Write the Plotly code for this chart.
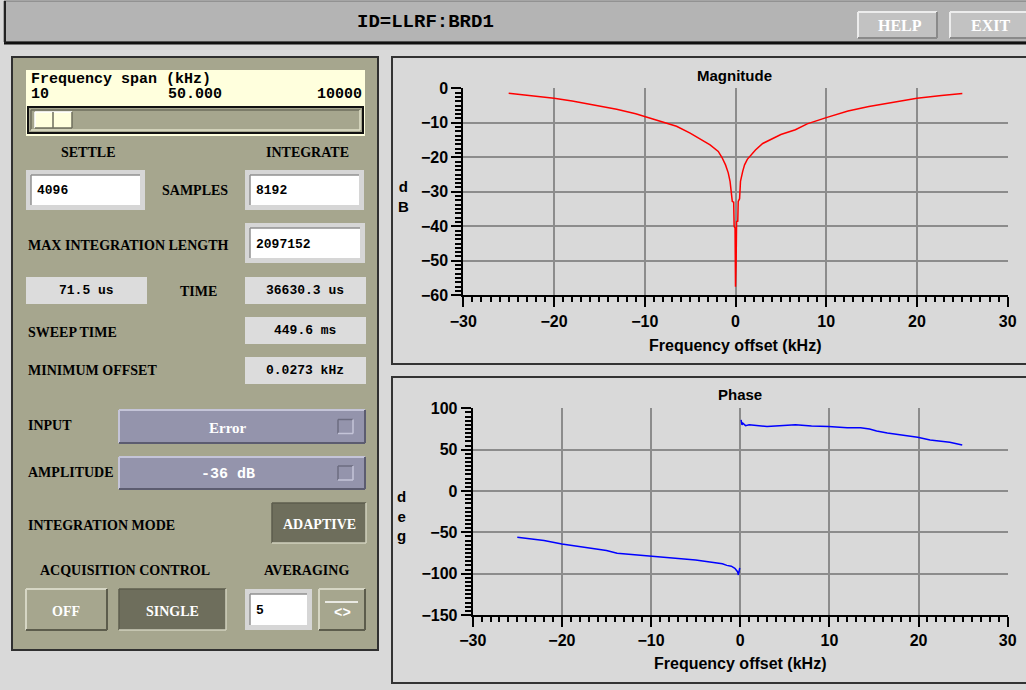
import plotly.graph_objects as go

W, H = 1026, 690

# ---------------- data ----------------
mag_freq = [-25, -24, -22.7, -21, -20, -18, -15.8, -13.1, -11, -10, -8.5, -7.7, -6.5, -5, -4, -2.8,
            -1.9, -1.5, -1.1, -0.8, -0.6, -0.45, -0.35, -0.2, -0.15, -0.05, 0.0, 0.07, 0.12, 0.25,
            0.3, 0.45, 0.55, 0.8, 1.0, 1.3, 1.7, 2.2, 3.0, 3.9, 5.0, 6.6, 7.9, 10, 12.4, 14.7,
            17.8, 20, 22.7, 25]
mag_db = [-1.45, -1.7, -2.1, -2.6, -2.9, -3.7, -4.8, -6.1, -7.4, -8.2, -9.2, -9.9, -11.0, -13.0, -14.5, -16.4,
          -18.3, -20.0, -22.2, -24.5, -27.0, -30.0, -32.8, -33.0, -40.0, -40.5, -57.5, -50.0, -38.6, -38.5,
          -32.8, -32.0, -27.0, -24.0, -22.2, -20.6, -19.3, -17.9, -16.0, -14.8, -13.4, -12.0, -10.3, -8.5, -6.6, -5.3,
          -3.9, -2.9, -2.1, -1.5]

ph_freq_neg = [-25, -24, -22, -20, -18, -16.6, -15, -13.8, -12, -10, -8, -6.5, -5, -3.4, -2, -1.5, -1,
               -0.6, -0.3, -0.2, -0.1, -0.05]
ph_deg_neg = [-56, -57.5, -60, -64, -67, -70, -72, -75.4, -77, -79.4, -80.5, -82, -83.5, -86, -88, -90, -91,
              -93.5, -97.6, -101.6, -96, -93]
ph_freq_pos = [0.1, 0.2, 0.3, 0.6, 1.0, 1.7, 3, 4.4, 6.2, 8, 9.9, 12, 13.5, 14.5, 15.3, 16.5, 18.1, 19.9,
               21.3, 22.5, 23.5, 24.9]
ph_deg_pos = [86, 80, 82, 79, 80, 79, 78, 79, 80, 78.5, 78, 76.5, 76.6, 75, 72.6, 70, 67.7, 65,
              61.7, 60.5, 59, 55.6]

x_ticks = [-30, -20, -10, 0, 10, 20, 30]
mag_ticks = [0, -10, -20, -30, -40, -50, -60]
ph_ticks = [100, 50, 0, -50, -100, -150]

# ---------------- helpers ----------------
def X(px):
    return px / W

def Y(py):
    return 1 - py / H

shapes = []
annotations = []

def box(x0, y0, x1, y1, fill, line=None, lw=0):
    shapes.append(dict(type="rect", xref="paper", yref="paper",
                       x0=X(x0), x1=X(x1), y0=Y(y1), y1=Y(y0),
                       fillcolor=fill, line=dict(color=line or fill, width=lw), layer="below"))

def seg(x0, y0, x1, y1, color, lw=1):
    shapes.append(dict(type="line", xref="paper", yref="paper",
                       x0=X(x0), x1=X(x1), y0=Y(y0), y1=Y(y1),
                       line=dict(color=color, width=lw), layer="below"))

def bevel(x0, y0, x1, y1, light, dark, lw=2):
    seg(x0, y0, x1, y0, light, lw)
    seg(x0, y0, x0, y1, light, lw)
    seg(x0, y1, x1, y1, dark, lw)
    seg(x1, y0, x1, y1, dark, lw)

def text(x, y, s, size=14, family="Liberation Serif", color="black", anchor="center", bold=True):
    annotations.append(dict(x=X(x), y=Y(y), xref="paper", yref="paper", text=s, showarrow=False,
                            xanchor=anchor, yanchor="middle",
                            font=dict(family=family, size=size, color=color,
                                      weight="bold" if bold else "normal")))

SERIF = "Liberation Serif"
MONO = "Liberation Mono"
SANS = "Liberation Sans"

PANEL = "#a6a68e"
DARKB = "#6e6e5c"
DROP = "#9494ac"
VALBOX = "#dcdcdc"

# ---------------- header ----------------
box(4, 1, 1030, 42, "#b4b4b4", "#707070", 1)
seg(4, 43, 1030, 43, "#111111", 3)
seg(5, 1, 5, 43, "#222222", 2)
text(425, 22, "ID=LLRF:BRD1", 19, MONO)
for (bx0, bx1, lbl) in [(858, 937, "HELP"), (950, 1030, "EXIT")]:
    box(bx0, 12, bx1, 38, "#c2c2c2")
    bevel(bx0, 12, bx1, 38, "#ececec", "#8a8a8a", 2)
    text((bx0 + min(bx1, 1026)) / 2 + 2, 25, lbl, 16, SERIF, "white")

# ---------------- plot panels ----------------
box(392, 57, 1032, 364, "#d9d9d9", "#333333", 2)
box(392, 377, 1032, 683, "#d9d9d9", "#333333", 2)

# ---------------- left control panel ----------------
box(12, 57, 378, 650, PANEL, "#303030", 2)
box(26, 70, 365, 136, "#ffffdd")
text(29, 79, "Frequency span (kHz)", 15, MONO, anchor="left")
text(29, 95, "10", 15, MONO, anchor="left")
text(195, 95, "50.000", 15, MONO)
text(364, 95, "10000", 15, MONO, anchor="right")
box(28, 107, 363, 133, PANEL, "#111111", 2)
bevel(31, 110, 360, 130, "#6e6e5c", "#e0e0c8", 1.5)
box(35, 112, 72, 128, "#ffffdd")
bevel(35, 112, 72, 128, "#ffffff", "#6e6e5c", 1.5)
seg(53, 112, 53, 128, "#6e6e5c", 1.5)

text(88, 152, "SETTLE", 14, SERIF)
text(307, 152, "INTEGRATE", 14, SERIF)

def inbox(x0, y0, x1, y1):
    box(x0, y0, x1, y1, "#d6d6d6")
    box(x0 + 5, y0 + 5, x1 - 5, y1 - 5, "white")
    seg(x0 + 5, y0 + 5, x1 - 5, y0 + 5, "#909090", 1.5)
    seg(x0 + 5, y0 + 5, x0 + 5, y1 - 5, "#909090", 1.5)

inbox(26, 170, 145, 210)
inbox(245, 170, 364, 210)
text(35, 190, "4096", 13, MONO, anchor="left")
text(195, 190, "SAMPLES", 14, SERIF)
text(254, 190, "8192", 13, MONO, anchor="left")

text(26, 245, "MAX INTEGRATION LENGTH", 14, SERIF, anchor="left")
inbox(245, 223, 365, 263)
text(254, 244, "2097152", 13, MONO, anchor="left")

box(26, 277, 147, 304, VALBOX)
text(86, 290, "71.5 us", 13, MONO)
text(198, 291, "TIME", 14, SERIF)
box(245, 277, 366, 304, VALBOX)
text(305, 290, "36630.3 us", 13, MONO)

text(26, 332, "SWEEP TIME", 14, SERIF, anchor="left")
box(245, 317, 366, 344, VALBOX)
text(305, 330, "449.6 ms", 13, MONO)

text(26, 370, "MINIMUM OFFSET", 14, SERIF, anchor="left")
box(245, 357, 366, 384, VALBOX)
text(305, 370, "0.0273 kHz", 13, MONO)

for (yy0, yy1, lbl, val, fam, ty) in [(410, 443, "INPUT", "Error", SERIF, 425),
                                       (457, 489, "AMPLITUDE", "-36 dB", MONO, 472)]:
    text(26, ty, lbl, 14, SERIF, anchor="left")
    box(119, yy0, 365, yy1, DROP)
    bevel(119, yy0, 365, yy1, "#c4c4d8", "#5c5c70", 2)
    text(228, (yy0 + yy1) / 2 + 1, val, 15, fam, "white")
    cy = (yy0 + yy1) / 2
    box(338, cy - 7, 353, cy + 7, DROP)
    bevel(338, cy - 7, 353, cy + 7, "#6c6c80", "#c4c4d8", 1.5)

text(26, 525, "INTEGRATION MODE", 14, SERIF, anchor="left")
box(272, 503, 366, 543, DARKB)
bevel(272, 503, 366, 543, "#5c5c4c", "#d0d0bc", 1.5)
text(319, 524, "ADAPTIVE", 14, SERIF, "white")

text(125, 570, "ACQUISITION CONTROL", 14, SERIF)
text(306, 570, "AVERAGING", 14, SERIF)

box(26, 589, 107, 630, PANEL)
bevel(26, 589, 107, 630, "#d6d6c4", "#5c5c4c", 2)
text(66, 611, "OFF", 14, SERIF, "white")
box(119, 589, 226, 630, DARKB)
bevel(119, 589, 226, 630, "#5c5c4c", "#d0d0bc", 1.5)
text(172, 611, "SINGLE", 14, SERIF, "white")
inbox(245, 589, 312, 630)
text(254, 610, "5", 13, MONO, anchor="left")
box(319, 589, 365, 630, PANEL)
bevel(319, 589, 365, 630, "#d6d6c4", "#5c5c4c", 2)
seg(325, 602, 358, 602, "white", 1.5)
text(342, 613, "&lt;&gt;", 14, MONO, "white")

# ---------------- plot titles / labels ----------------
text(734, 75, "Magnitude", 15, SANS)
text(735, 345, "Frequency offset (kHz)", 16, SANS)
text(403, 196, "d<br>B", 15, SANS)
text(740, 394, "Phase", 15, SANS)
text(740, 663, "Frequency offset (kHz)", 16, SANS)
text(401, 516, "d<br>e<br>g", 15, SANS)

# ---------------- traces ----------------
fig = go.Figure()
fig.add_trace(go.Scatter(x=mag_freq, y=mag_db, mode="lines", line=dict(color="#ff0000", width=1.5),
                         xaxis="x", yaxis="y", showlegend=False))
fig.add_trace(go.Scatter(x=ph_freq_neg + [None] + ph_freq_pos, y=ph_deg_neg + [None] + ph_deg_pos,
                         mode="lines", line=dict(color="#0000ff", width=1.5), connectgaps=False,
                         xaxis="x2", yaxis="y2", showlegend=False))

tickfont = dict(family=SANS, size=16, color="black", weight="bold")

def xax(domain, anchor):
    return dict(domain=domain, anchor=anchor, range=[-30, 30], tickvals=x_ticks,
                showgrid=True, gridcolor="#8c8c8c", gridwidth=1.5, zeroline=False,
                showline=True, linecolor="black", linewidth=2, automargin=False,
                ticks="outside", ticklen=10, tickwidth=2, tickcolor="black",
                minor=dict(dtick=1, ticks="outside", ticklen=5, tickwidth=1.5, tickcolor="black", showgrid=False),
                tickfont=tickfont, fixedrange=True)

def yax(domain, anchor, rng, tv, mdt):
    return dict(domain=domain, anchor=anchor, range=rng, tickvals=tv,
                showgrid=True, gridcolor="#8c8c8c", gridwidth=1.5, zeroline=False,
                showline=True, linecolor="black", linewidth=2, automargin=False,
                ticks="outside", ticklen=10, tickwidth=2, tickcolor="black",
                minor=dict(dtick=mdt, ticks="outside", ticklen=6, tickwidth=1.5, tickcolor="black", showgrid=False),
                tickfont=tickfont, fixedrange=True)

fig.update_layout(
    width=W, height=H, margin=dict(l=0, r=0, t=0, b=0, pad=0, autoexpand=False),
    paper_bgcolor="#d9d9d9", plot_bgcolor="#ffffdd",
    xaxis=xax([463.3 / W, 1007.7 / W], "y"),
    yaxis=yax([1 - 295.3 / H, 1 - 88.3 / H], "x", [-60, 0], mag_ticks, 1.25),
    xaxis2=xax([472.7 / W, 1007.7 / W], "y2"),
    yaxis2=yax([1 - 615 / H, 1 - 408.3 / H], "x2", [-150, 100], ph_ticks, 5),
    shapes=shapes, annotations=annotations,
)

fig.write_html("out.html", config={"displayModeBar": False},
               post_script="document.body.style.margin='0px';document.body.style.overflow='hidden';")
